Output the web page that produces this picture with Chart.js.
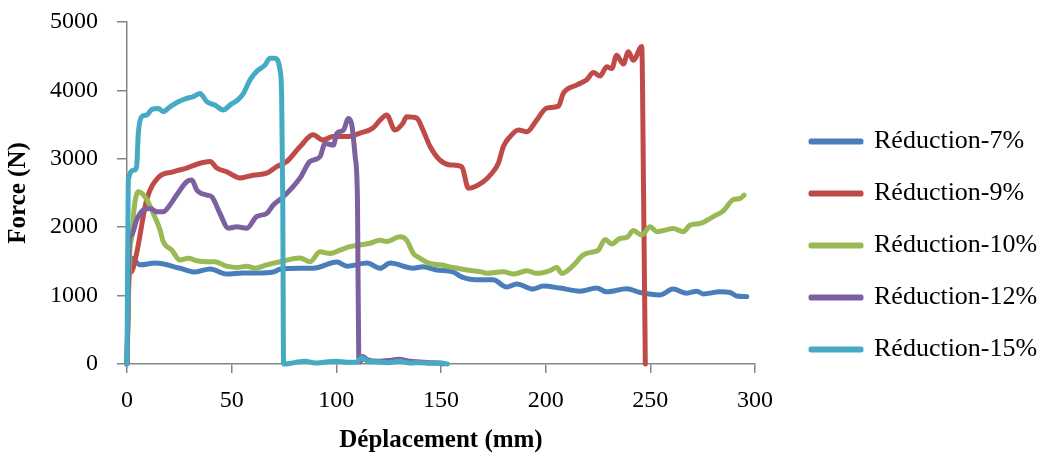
<!DOCTYPE html>
<html>
<head>
<meta charset="utf-8">
<script src="https://cdn.jsdelivr.net/npm/chart.js@4"></script>
<style>
  html, body { margin: 0; padding: 0; background: #fff; }
  #wrap { width: 1055px; height: 461px; }
</style>
</head>
<body>
<div id="wrap"><canvas id="forceChart"></canvas></div>
<script>
// Force vs displacement, one curve per reduction ratio
const seriesNames = ["Réduction-7%", "Réduction-9%", "Réduction-10%", "Réduction-12%", "Réduction-15%"];
const seriesColors = ["#4a7ebb", "#be4b48", "#98b954", "#7d60a0", "#46aac5"];

const xTicks = [0, 50, 100, 150, 200, 250, 300];
const yTicks = [0, 1000, 2000, 3000, 4000, 5000];

const r7X = [0, 1, 2.2, 6.2, 13.4, 25.3, 32.5, 39.7, 47.6, 55.4, 62.1, 69.8, 73.1, 82.7, 88.9, 100.3, 105.1, 114.7, 120.9, 125.7, 136.6, 141.4, 148.1, 155.8, 160.1, 168.7, 174.9, 181.4, 186.2, 194, 198.8, 206.9, 216.4, 224.4, 229.2, 238.8, 245.1, 254.7, 260.9, 267.4, 272.2, 275.2, 283.3, 288.1, 291.3, 296.1];
const r7Y = [0, 1450, 1545, 1450, 1475, 1400, 1345, 1390, 1315, 1330, 1330, 1345, 1385, 1400, 1400, 1490, 1430, 1475, 1400, 1475, 1400, 1420, 1375, 1345, 1270, 1230, 1230, 1125, 1170, 1095, 1140, 1110, 1065, 1110, 1055, 1100, 1045, 1010, 1095, 1035, 1065, 1025, 1055, 1045, 995, 985];

const r9X = [0, 1, 2.2, 4.6, 9.4, 14.8, 22, 28.5, 34.9, 39.7, 42.9, 47.6, 54, 60.2, 66.7, 71.5, 76.3, 82.7, 88.9, 93.6, 98.4, 104.9, 111.3, 117.5, 120.9, 124.1, 128, 131.8, 133.6, 138.4, 141.4, 144.8, 149.5, 154.3, 159.9, 163.1, 170.2, 174.2, 177.4, 179.8, 183, 187, 191, 195.7, 200.5, 206.1, 208.4, 214.9, 219.6, 222.8, 226, 229.2, 231.6, 233.9, 237.1, 239.5, 241.9, 245.9, 246.8, 247.6];
const r9Y = [0, 1300, 1350, 1620, 2400, 2720, 2810, 2865, 2935, 2960, 2865, 2810, 2720, 2760, 2790, 2885, 2960, 3180, 3350, 3275, 3325, 3325, 3375, 3450, 3565, 3640, 3420, 3520, 3615, 3595, 3420, 3180, 2980, 2910, 2885, 2570, 2665, 2785, 2935, 3180, 3325, 3420, 3395, 3565, 3740, 3770, 3955, 4080, 4155, 4260, 4210, 4345, 4320, 4515, 4385, 4565, 4440, 4640, 2400, 0];

const r10X = [0, 1.4, 2.2, 3.5, 5.4, 8.6, 12.6, 15.8, 17.3, 21.4, 25.3, 29.3, 33.3, 38.1, 42, 47.6, 52.4, 57.2, 61.2, 66.7, 73.1, 82.7, 87.4, 92.2, 97, 101.8, 106.5, 111.3, 116.1, 120.9, 124.1, 130.4, 133.6, 136.8, 140, 144.8, 149.5, 155.9, 162.3, 168.7, 171.9, 179.8, 184.6, 191, 195.7, 202.1, 205.3, 207.7, 212.5, 218, 222.8, 225.2, 228.4, 231.6, 235.5, 238.8, 241.9, 245.9, 249.9, 253.1, 261, 265.8, 269, 273.8, 280.1, 284.9, 289.7, 292.9, 294.8];
const r10Y = [0, 1665, 1835, 2300, 2520, 2445, 2200, 1960, 1790, 1665, 1520, 1545, 1510, 1495, 1495, 1430, 1410, 1430, 1400, 1450, 1495, 1550, 1495, 1640, 1615, 1665, 1715, 1740, 1765, 1810, 1790, 1860, 1810, 1615, 1545, 1470, 1450, 1410, 1375, 1350, 1325, 1350, 1315, 1365, 1325, 1365, 1410, 1325, 1420, 1595, 1640, 1665, 1820, 1755, 1835, 1850, 1950, 1885, 2005, 1935, 1980, 1935, 2030, 2055, 2155, 2240, 2405, 2420, 2470];

const r12X = [0, 1.2, 2.2, 4.6, 7.8, 11, 14.2, 17.3, 20.5, 23.7, 28.5, 31, 33.3, 38.1, 40.5, 44.4, 48.4, 52.4, 57.2, 61.9, 66.7, 69.9, 74.7, 78.7, 82.7, 87.4, 92.2, 94.6, 98.6, 100.2, 103.4, 105.8, 107.4, 109, 110.1, 110.7, 111.3, 112.5, 115, 120, 125, 130, 135, 140, 145, 150, 151];
const r12Y = [0, 1850, 1885, 2105, 2250, 2275, 2225, 2225, 2325, 2470, 2665, 2690, 2545, 2470, 2445, 2200, 1985, 2005, 1985, 2155, 2200, 2325, 2445, 2570, 2720, 2960, 3030, 3225, 3200, 3370, 3420, 3590, 3495, 3030, 2400, 105, 30, 110, 60, 40, 50, 70, 40, 30, 20, 10, 0];

const r15X = [0, 0.6, 3.5, 4.6, 5.4, 7, 9.4, 11.8, 15, 17.3, 20.5, 24.5, 28.5, 31.7, 34.9, 38.1, 42, 46, 49.2, 53.2, 55.6, 58.7, 61.9, 65.9, 68.3, 70.7, 73.1, 73.9, 74.4, 74.8, 80, 85, 90, 95, 100, 105, 110, 112, 115, 120, 125, 130, 135, 140, 145, 150, 153];
const r15Y = [0, 2690, 2835, 2885, 3370, 3615, 3640, 3720, 3735, 3690, 3760, 3835, 3885, 3910, 3955, 3835, 3785, 3715, 3785, 3870, 3955, 4150, 4275, 4370, 4470, 4470, 4300, 3860, 2400, 0, 20, 40, 15, 30, 40, 25, 30, 90, 40, 30, 20, 40, 15, 20, 10, 15, 0];

const seriesX = [r7X, r9X, r10X, r12X, r15X];
const seriesY = [r7Y, r9Y, r10Y, r12Y, r15Y];

Chart.defaults.font.family = "'Liberation Serif', 'Times New Roman', serif";
Chart.defaults.color = "#000";

const axisGrey = "#868686";

// legend sits to the right of the plot with a fixed width, nudged like the original
const legendPlace = {
  id: "legendPlace",
  beforeLayout(chart) {
    const lg = chart.legend;
    if (lg && !lg._patched) {
      const fit = lg.fit;
      lg.fit = function () { fit.call(this); this.width = 300; };
      lg._patched = true;
    }
  },
  afterLayout(chart) {
    const lg = chart.legend;
    lg.left += 30; lg.right += 30;
    lg.top += 4; lg.bottom += 4;
  }
};

const datasets = seriesNames.map((name, i) => ({
  label: name,
  data: seriesX[i].map((x, k) => ({ x: x, y: seriesY[i][k] })),
  borderColor: seriesColors[i],
  backgroundColor: seriesColors[i],
  borderWidth: 5,
  borderCapStyle: "round",
  borderJoinStyle: "round",
  pointRadius: 0,
  cubicInterpolationMode: "monotone",
  clip: false,
  order: seriesNames.length - i
}));

new Chart(document.getElementById("forceChart"), {
  type: "line",
  data: { datasets: datasets },
  options: {
    responsive: true,
    maintainAspectRatio: false,
    animation: false,
    layout: { padding: { top: 22, left: 0, right: 0, bottom: 0 } },
    plugins: {
      legend: {
        position: "right",
        labels: {
          boxWidth: 50,
          boxHeight: 1,
          padding: 26,
          font: { size: 26 },
          sort: (a, b) => a.datasetIndex - b.datasetIndex
        }
      },
      tooltip: { enabled: false }
    },
    scales: {
      x: {
        type: "linear",
        min: xTicks[0],
        max: xTicks[xTicks.length - 1],
        afterBuildTicks: (s) => { s.ticks = xTicks.map(v => ({ value: v })); },
        afterFit: (s) => { s.height = 97; },
        ticks: { font: { size: 24 }, padding: 13, maxRotation: 0, callback: (v) => String(v) },
        grid: { drawOnChartArea: false, drawTicks: true, tickLength: 9, color: axisGrey, lineWidth: 1.5 },
        border: { display: true, color: axisGrey, width: 1.5 },
        title: {
          display: true,
          text: "Déplacement (mm)",
          font: { size: 25, weight: "bold" },
          padding: { top: 4, bottom: 5 }
        }
      },
      y: {
        min: yTicks[0],
        max: yTicks[yTicks.length - 1],
        afterBuildTicks: (s) => { s.ticks = yTicks.map(v => ({ value: v })); },
        afterFit: (s) => { s.width = 127; s.paddingTop = 0; s.paddingBottom = 0; },
        ticks: { font: { size: 24 }, padding: 19, callback: (v) => String(v) },
        grid: { drawOnChartArea: false, drawTicks: true, tickLength: 10, color: axisGrey, lineWidth: 1.5 },
        border: { display: true, color: axisGrey, width: 1.5 },
        title: {
          display: true,
          text: "Force (N)",
          font: { size: 25, weight: "bold" },
          padding: { top: 4, bottom: 4 }
        }
      }
    }
  },
  plugins: [legendPlace]
});
</script>
</body>
</html>
